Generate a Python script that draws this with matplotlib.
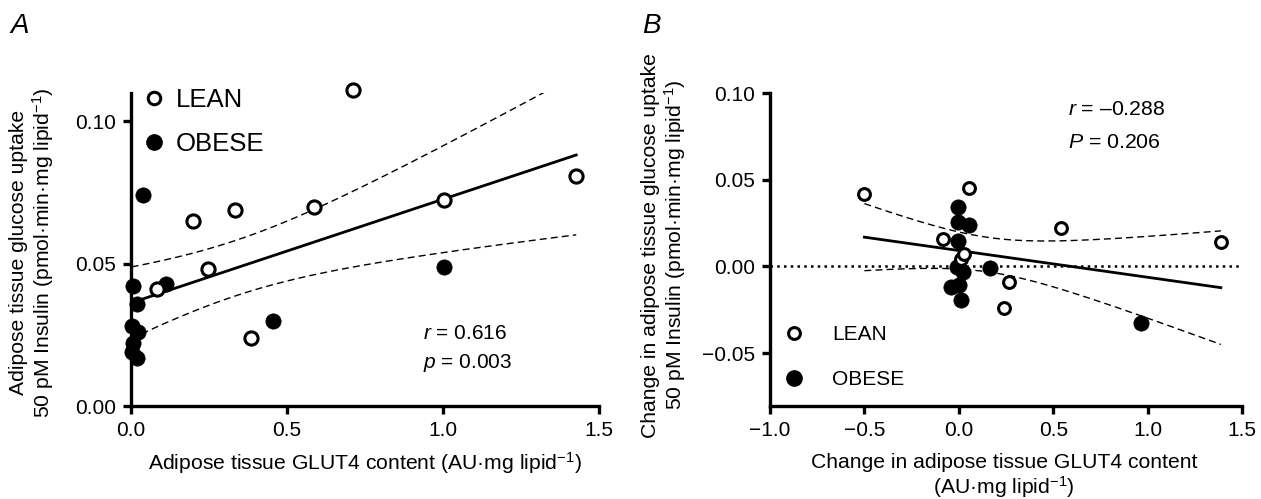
import numpy as np
import matplotlib
matplotlib.use('Agg')
import matplotlib.pyplot as plt
from matplotlib.lines import Line2D

plt.rcParams['font.family'] = ['Liberation Sans', 'DejaVu Sans']
plt.rcParams['mathtext.fontset'] = 'custom'
plt.rcParams['mathtext.rm'] = 'Liberation Sans'
plt.rcParams['mathtext.it'] = 'Liberation Sans:italic'
plt.rcParams['mathtext.bf'] = 'Liberation Sans:bold'

# panel A: GLUT4 content vs glucose uptake
a_lean_x = [0.083, 0.200, 0.246, 0.332, 0.386, 0.586, 0.713, 1.004, 1.427]
a_lean_y = [0.041, 0.065, 0.048, 0.069, 0.024, 0.070, 0.111, 0.0725, 0.081]
a_obese_x = [0.002, 0.002, 0.005, 0.008, 0.018, 0.020, 0.024, 0.038, 0.112, 0.454, 1.004]
a_obese_y = [0.019, 0.028, 0.022, 0.042, 0.017, 0.036, 0.026, 0.074, 0.043, 0.030, 0.049]

# panel B: change in GLUT4 vs change in uptake
b_lean_x = [-0.500, -0.083, 0.011, 0.028, 0.052, 0.241, 0.268, 0.543, 1.388]
b_lean_y = [0.042, 0.016, 0.004, 0.007, 0.045, -0.024, -0.009, 0.022, 0.014]
b_obese_x = [-0.043, -0.007, -0.004, -0.003, -0.003, 0.002, 0.011, 0.020, 0.055, 0.165, 0.965]
b_obese_y = [-0.012, -0.0004, 0.034, 0.0255, 0.0146, -0.011, -0.0195, -0.0033, 0.0236, -0.0008, -0.0324]

a_stats = ['$r$ = 0.616', '$p$ = 0.003']
b_stats = ['$r$ = \u20130.288', '$P$ = 0.206']

T_CRIT = 2.101  # t(0.975, df=18)


def fit_band(x, y):
    x = np.asarray(x)
    y = np.asarray(y)
    n = len(x)
    slope, icept = np.polyfit(x, y, 1)
    xs = np.linspace(x.min(), x.max(), 200)
    yhat = icept + slope * xs
    resid = y - (icept + slope * x)
    s = np.sqrt(np.sum(resid ** 2) / (n - 2))
    se = s * np.sqrt(1 / n + (xs - x.mean()) ** 2 / np.sum((x - x.mean()) ** 2))
    return xs, yhat, yhat - T_CRIT * se, yhat + T_CRIT * se


def style_axes(ax):
    for side in ['top', 'right']:
        ax.spines[side].set_visible(False)
    for side in ['left', 'bottom']:
        ax.spines[side].set_linewidth(2.4)
    ax.tick_params(direction='out', length=6, width=2.4, labelsize=15, pad=5)


def draw_panel(ax, lx, ly, ox, oy, ms_open):
    all_x = lx + ox
    all_y = ly + oy
    xs, yhat, lo, hi = fit_band(all_x, all_y)
    ax.plot(xs, yhat, color='black', lw=2.0, zorder=2)
    ax.plot(xs, lo, color='black', lw=1.0, ls=(0, (5, 3)), zorder=2)
    ax.plot(xs, hi, color='black', lw=1.0, ls=(0, (5, 3)), zorder=2)
    ax.plot(ox, oy, 'o', color='black', ms=11, mew=0.5, clip_on=False, zorder=4)
    ax.plot(lx, ly, 'o', mfc='white', mec='black', ms=ms_open, mew=2.2,
            clip_on=False, zorder=5)


fig = plt.figure(figsize=(12.61, 4.99), dpi=100)
W, H = 1261, 499
axA = fig.add_axes([131 / W, 1 - 406 / H, (599 - 131) / W, (406 - 93) / H])
axB = fig.add_axes([770 / W, 1 - 406 / H, (1242 - 770) / W, (406 - 93) / H])

# ---- panel A
draw_panel(axA, a_lean_x, a_lean_y, a_obese_x, a_obese_y, 9.5)
axA.set_xlim(0, 1.5)
axA.set_ylim(0, 0.11)
axA.set_xticks([0, 0.5, 1.0, 1.5])
axA.set_xticklabels(['0.0', '0.5', '1.0', '1.5'])
axA.set_yticks([0, 0.05, 0.10])
axA.set_yticklabels(['0.00', '0.05', '0.10'])
style_axes(axA)
axA.set_xlabel('Adipose tissue GLUT4 content (AU\u00b7mg lipid$^{-1}$)', fontsize=15.2)
axA.xaxis.set_label_coords(0.5, -0.14)
axA.set_ylabel('Adipose tissue glucose uptake\n50 pM Insulin (pmol\u00b7min\u00b7mg lipid$^{-1}$)',
               fontsize=15.2, linespacing=1.1)
axA.yaxis.set_label_coords(-0.16, 0.49)
axA.text(0.624, 0.233, a_stats[0], transform=axA.transAxes, fontsize=15, va='center')
axA.text(0.624, 0.137, a_stats[1], transform=axA.transAxes, fontsize=15, va='center')
hA = [Line2D([], [], ls='none', marker='o', mfc='white', mec='black', ms=9, mew=2.2),
      Line2D([], [], ls='none', marker='o', color='black', ms=11)]
axA.legend(hA, ['LEAN', 'OBESE'], loc='upper left', bbox_to_anchor=(146 / W, 1 - 88 / H),
           bbox_transform=fig.transFigure, frameon=False, fontsize=18.5,
           handlelength=0.6, handletextpad=0.55, labelspacing=0.78, borderpad=0,
           borderaxespad=0)

# ---- panel B
axB.axhline(0, color='black', lw=1.8, ls=(0, (1, 1.7)), zorder=1)
draw_panel(axB, b_lean_x, b_lean_y, b_obese_x, b_obese_y, 8.5)
axB.set_xlim(-1.0, 1.5)
axB.set_ylim(-0.0805, 0.10)
axB.set_xticks([-1.0, -0.5, 0, 0.5, 1.0, 1.5])
axB.set_xticklabels(['\u22121.0', '\u22120.5', '0.0', '0.5', '1.0', '1.5'])
axB.set_yticks([-0.05, 0, 0.05, 0.10])
axB.set_yticklabels(['\u22120.05', '0.00', '0.05', '0.10'])
style_axes(axB)
axB.set_xlabel('Change in adipose tissue GLUT4 content\n(AU\u00b7mg lipid$^{-1}$)',
               fontsize=15.2, linespacing=1.1)
axB.xaxis.set_label_coords(0.496, -0.15)
axB.set_ylabel('Change in adipose tissue glucose uptake\n50 pM Insulin (pmol\u00b7min\u00b7mg lipid$^{-1}$)',
               fontsize=15.2, linespacing=1.1)
axB.yaxis.set_label_coords(-0.174, 0.514)
axB.text(0.631, 0.946, b_stats[0], transform=axB.transAxes, fontsize=15.3, va='center')
axB.text(0.631, 0.843, b_stats[1], transform=axB.transAxes, fontsize=15.3, va='center')
hB = [Line2D([], [], ls='none', marker='o', mfc='white', mec='black', ms=8.5, mew=2.2),
      Line2D([], [], ls='none', marker='o', color='black', ms=11)]
axB.legend(hB, ['LEAN', 'OBESE'], loc='upper left', bbox_to_anchor=(786 / W, 1 - 325 / H),
           bbox_transform=fig.transFigure, frameon=False, fontsize=15,
           handlelength=0.8, handletextpad=1.4, labelspacing=1.24, borderpad=0,
           borderaxespad=0)

fig.text(10 / W, 1 - 26 / H, 'A', fontsize=20, style='italic', va='center')
fig.text(642 / W, 1 - 26 / H, 'B', fontsize=20, style='italic', va='center')

fig.savefig('out.png', dpi=100)
